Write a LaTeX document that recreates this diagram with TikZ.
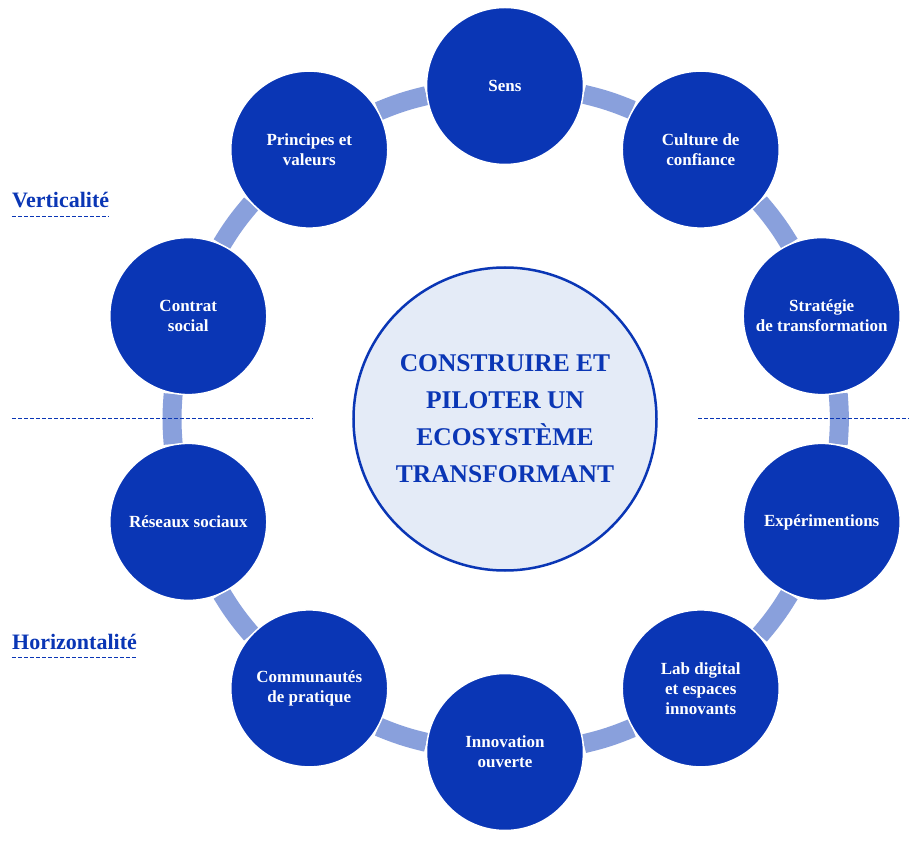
\documentclass[tikz,border=0pt]{standalone}
\usepackage{fontspec}
\setmainfont{Liberation Serif}
\usetikzlibrary{backgrounds}
\definecolor{ringblue}{RGB}{10,54,181}
\definecolor{linkblue}{RGB}{137,160,220}
\definecolor{corefill}{RGB}{228,235,247}
\tikzset{
  pole/.style={circle, fill=ringblue, draw=white, line width=1.5pt, minimum size=157pt, inner sep=0pt, align=center, text=white, font=\fontsize{17}{20}\selectfont\bfseries},
  core/.style={circle, fill=corefill, draw=ringblue, line width=2.5pt, minimum size=303pt, inner sep=0pt, align=center, text=ringblue, font=\fontsize{25.5}{37}\selectfont\bfseries},
  link/.style={draw=linkblue, line width=19pt},
  axis/.style={draw=ringblue, line width=1pt, dash pattern=on 4pt off 2pt},
  axislabel/.style={anchor=base west, text=ringblue, inner sep=0pt, font=\fontsize{22}{26}\selectfont\bfseries}
}
\begin{document}
\begin{tikzpicture}[x=1pt,y=1pt]
                \useasboundingbox (-505,-421) rectangle (415,419);

                \node[core] (core) at (0,0) {CONSTRUIRE ET\\PILOTER UN\\ECOSYSTÈME\\TRANSFORMANT};
                \node[pole] (sens) at (90:333) {Sens};
                \node[pole] (culture) at (54:333) {Culture de\\confiance};
                \node[pole] (strategie) at (18:333) {Stratégie\\de transformation};
                \node[pole] (experim) at (-18:333) {Expérimentions};
                \node[pole] (lab) at (-54:333) {Lab digital\\et espaces\\innovants};
                \node[pole] (innov) at (-90:333) {Innovation\\ouverte};
                \node[pole] (commu) at (-126:333) {Communautés\\de pratique};
                \node[pole] (reseaux) at (-162:333) {Réseaux sociaux};
                \node[pole] (contrat) at (162:333) {Contrat\\social};
                \node[pole] (principes) at (126:333) {Principes et\\valeurs};

                \node[axislabel] (vert) at (-493,211) {Verticalité};
                \node[axislabel] (horiz) at (-493,-230) {Horizontalité};

                % ring segments, following the circle of radius 333
                \begin{scope}[on background layer]
                \fill[white] (-505,-421) rectangle (415,419);
                \draw[link] (sens.-6.73) to[out=-13.45, in=157.45] (culture.150.73); \draw[link] (culture.-42.73) to[out=-49.45, in=121.45] (strategie.114.73);
                \draw[link] (strategie.-78.73) to[out=-85.45, in=85.45] (experim.78.73); \draw[link] (experim.-114.73) to[out=-121.45, in=49.45] (lab.42.73);
                \draw[link] (lab.-150.73) to[out=-157.45, in=13.45] (innov.6.73); \draw[link] (innov.173.27) to[out=166.55, in=-22.55] (commu.-29.27);
                \draw[link] (commu.137.27) to[out=130.55, in=-58.55] (reseaux.-65.27); \draw[link] (reseaux.101.27) to[out=94.55, in=-94.55] (contrat.-101.27);
                \draw[link] (contrat.65.27) to[out=58.55, in=-130.55] (principes.-137.27); \draw[link] (principes.29.27) to[out=22.55, in=-166.55] (sens.-173.27);
                \end{scope}

                \draw[axis] ([yshift=-9pt]vert.base west) -- ([yshift=-9pt]vert.base east); \draw[axis] ([yshift=-8pt]horiz.base west) -- ([yshift=-8pt]horiz.base east);
                \draw[axis] (-493,0) -- (-192,0); \draw[axis] (193,0) -- (404,0);
            \end{tikzpicture}
\end{document}
